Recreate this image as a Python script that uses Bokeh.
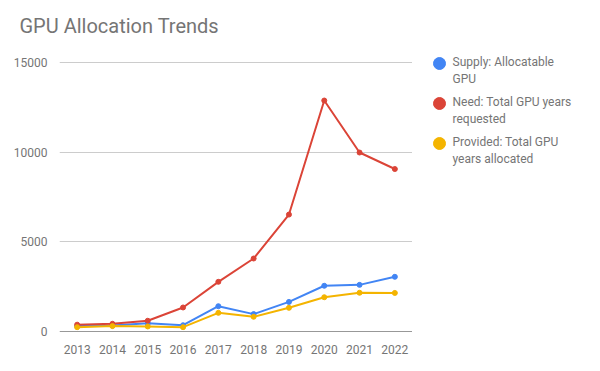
from bokeh.plotting import figure
from bokeh.layouts import row
from bokeh.models import Span, FixedTicker, Range1d, ColumnDataSource, Title
from bokeh.embed import file_html
from bokeh.resources import INLINE

years = [2013, 2014, 2015, 2016, 2017, 2018, 2019, 2020, 2021, 2022]
supply = [300, 330, 460, 350, 1410, 970, 1650, 2550, 2600, 3050]
need = [380, 430, 600, 1340, 2770, 4070, 6520, 12880, 9980, 9060]
provided = [240, 300, 280, 240, 1040, 820, 1320, 1910, 2160, 2150]
series_names = ["Supply: Allocatable\nGPU", "Need: Total GPU years\nrequested", "Provided: Total GPU\nyears allocated"]
colors = ["#4285F4", "#DB4437", "#F4B400"]
y_ticks = [0, 5000, 10000, 15000]

FONT = "Roboto"
GREY = "#757575"
TOP, BOTTOM, H = 45, 40, 371
Y_MAX = 15000 * (H - BOTTOM - TOP) / 269.0  # 15000 sits 269px above zero; frame reaches higher for the legend

# ---- main chart ----
p = figure(width=412, height=H, output_backend="svg", toolbar_location=None,
           x_range=Range1d(2012.5, 2022.5), y_range=Range1d(0, Y_MAX),
           min_border_left=59, min_border_right=0, min_border_top=TOP, min_border_bottom=BOTTOM,
           title="GPU Allocation Trends")
p.outline_line_color = None
p.title.text_font = FONT
p.title.text_font_size = "20px"
p.title.text_font_style = "normal"
p.title.text_color = GREY
p.title.align = "left"
p.title.offset = -40
p.title.standoff = 0

# blank spacer title above the real one, pushing it down a few pixels
p.add_layout(Title(text=" ", text_font_size="5px", standoff=0), "above")

p.xaxis.ticker = FixedTicker(ticks=years)
p.yaxis.ticker = FixedTicker(ticks=y_ticks)
for ax in (p.xaxis[0], p.yaxis[0]):
    ax.axis_line_color = None
    ax.major_tick_line_color = None
    ax.minor_tick_line_color = None
    ax.major_label_text_font = FONT
    ax.major_label_text_font_size = "12px"
    ax.major_label_text_color = GREY
p.xaxis.major_label_standoff = 7
p.yaxis.major_label_standoff = 6
p.xgrid.grid_line_color = None
p.ygrid.grid_line_color = "#CCCCCC"
p.ygrid.grid_line_width = 1

p.add_layout(Span(location=0, dimension="width", line_color="#333333", line_width=1))

for vals, c in zip([supply, need, provided], colors):
    p.line(years, vals, line_color=c, line_width=2)
    p.scatter(years, vals, size=5, fill_color=c, line_color=c)

# ---- legend panel (page-like coordinates, y pointing down) ----
LW = 188
lg = figure(width=LW, height=H, output_backend="svg", toolbar_location=None,
            x_range=Range1d(0, LW), y_range=Range1d(H - BOTTOM, TOP),
            min_border_left=0, min_border_right=0, min_border_top=TOP, min_border_bottom=BOTTOM,
            x_axis_location=None, y_axis_location=None)
lg.outline_line_color = None
lg.xgrid.visible = False
lg.ygrid.visible = False

row_gap = 40
first_y = 63
leg_y = [first_y + i * row_gap for i in range(len(series_names))]
src = ColumnDataSource(dict(x=[27] * len(series_names), y=leg_y, c=colors,
                            tx=[40] * len(series_names), t=series_names))
lg.scatter("x", "y", source=src, size=12, fill_color="c", line_color="c")
lg.text("tx", "y", text="t", source=src, text_font={"value": FONT}, text_font_size="12px",
        text_color=GREY, text_baseline="middle", text_align="left", text_line_height=1.15,
        y_offset=7)

layout = row(p, lg)
open("out.html", "w").write(file_html(layout, INLINE))
